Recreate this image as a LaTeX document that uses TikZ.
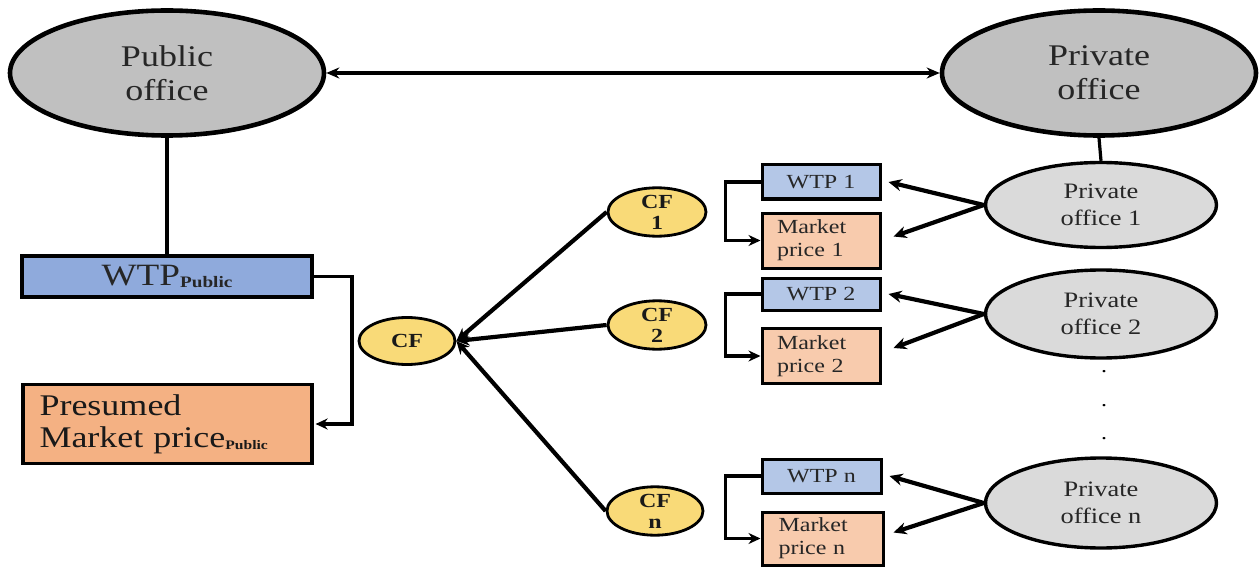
\documentclass[tikz,border=0pt]{standalone}
\usepackage{fontspec}
\setmainfont{Liberation Serif}[FakeStretch=1.2]
\usetikzlibrary{shapes.geometric,arrows.meta,calc}
\definecolor{biggray}{HTML}{C0C0C0}
\definecolor{lightgray}{HTML}{DADADA}
\definecolor{bluepub}{HTML}{8FAADC}
\definecolor{bluepriv}{HTML}{B4C7E7}
\definecolor{orangepub}{HTML}{F4B183}
\definecolor{orangepriv}{HTML}{F8CBAD}
\definecolor{cfyellow}{HTML}{F9DA78}
\tikzset{
  bigoffice/.style={ellipse, draw, line width=4.6pt, fill=biggray, inner sep=0pt, align=center,
    minimum width=314pt, minimum height=125pt, font=\fontsize{30}{34}\selectfont, text=black!85},
  subofficebox/.style={ellipse, draw, line width=3.4pt, fill=lightgray, inner sep=0pt, align=center,
    minimum width=231pt, minimum height=88pt, font=\fontsize{22}{27}\selectfont, text=black!85},
  cfnode/.style={ellipse, draw, line width=2.8pt, fill=cfyellow, inner sep=0pt, align=center,
    minimum width=96pt, minimum height=47pt, font=\fontsize{20}{21}\selectfont\bfseries, text=black!90},
  wtpbox/.style={rectangle, draw, line width=3pt, fill=bluepriv, inner sep=0pt, align=center,
    minimum width=118pt, minimum height=34pt, font=\fontsize{20}{22}\selectfont, text=black!85},
  mpbox/.style={rectangle, draw, line width=3pt, fill=orangepriv, inner sep=0pt, align=left,
    minimum width=118pt, minimum height=55pt, text width=88pt, font=\fontsize{20}{23}\selectfont, text=black!85},
  conn/.style={line width=3.2pt},
  arr/.style={line width=4.2pt, -{Stealth[length=13pt,width=12pt]}},
  elbow/.style={line width=3.8pt, -{Stealth[length=12pt,width=11pt]}},
}
\begin{document}
\begin{tikzpicture}[x=1pt,y=-1pt]
\useasboundingbox[fill=white] (0,0) rectangle (1259,567);

% top offices
\node[bigoffice] (pub) at (167,73) {Public\\office};
\node[bigoffice] (priv) at (1099,73) {Private\\office};
\draw[line width=3.2pt, {Stealth[length=13pt,width=11pt]}-{Stealth[length=13pt,width=11pt]}] (pub.east) -- (priv.west);

% public side
\node[rectangle, draw, line width=3.2pt, fill=bluepub, minimum width=290pt, minimum height=41pt, inner sep=0pt,
  font=\fontsize{31}{32}\selectfont, text=black!85] (wtppub) at (167,276.5)
  {WTP\raisebox{-2pt}{\fontsize{16}{16}\selectfont\bfseries Public}};
\node[rectangle, draw, line width=3.2pt, fill=orangepub, minimum width=289pt, minimum height=79pt, inner sep=0pt,
  text width=256pt, align=left, font=\fontsize{30}{32}\selectfont, text=black!90] (presumed) at (167.5,424)
  {Presumed\\Market price\raisebox{-2pt}{\fontsize{13}{13}\selectfont\bfseries Public}};
\draw[conn] (pub.south) -- (wtppub.north);
\draw[elbow] (wtppub.east) -- ++(38,0) |- ([xshift=2pt]presumed.east);

% CF nodes
\node[cfnode] (cf) at (407,341) {CF};
\node[cfnode, minimum width=98pt, minimum height=48pt] (cf1) at (657,212) {CF\\1};
\node[cfnode, minimum width=98pt] (cf2) at (657,325) {CF\\2};
\node[cfnode] (cfn) at (655,511) {CF\\n};
\draw[arr] (cf1.west) -- (cf.east);
\draw[arr] (cf2.west) -- (cf.east);
\draw[arr] (cfn.west) -- (cf.east);

% private boxes
\node[wtpbox] (wtp1) at (821,182) {WTP 1};
\node[mpbox] (mp1) at (821,240.5) {Market\\price 1};
\node[wtpbox, minimum height=32pt] (wtp2) at (821,294) {WTP 2};
\node[mpbox] (mp2) at (821,356) {Market\\price 2};
\node[wtpbox, minimum width=119pt] (wtpn) at (821.5,476) {WTP n};
\node[mpbox, minimum width=121pt, minimum height=53pt] (mpn) at (822.5,538.5) {Market\\price n};

\draw[elbow] (wtp1.west) -- ++(-35,0) |- (mp1.west);
\draw[elbow] (wtp2.west) -- ++(-35,0) |- (mp2.west);
\draw[elbow] (wtpn.west) -- ++(-35,0) |- (mpn.west);

% private offices
\node[subofficebox, minimum height=85pt] (po1) at (1101,205) {Private\\office 1};
\node[subofficebox] (po2) at (1101,314) {Private\\office 2};
\node[subofficebox, minimum height=90pt] (pon) at (1101,503) {Private\\office n};
\draw[conn] (priv.south) -- (po1.north);

\draw[arr] (po1.west) -- ([xshift=7pt]wtp1.east);
\draw[arr] (po1.west) -- ([xshift=12pt,yshift=4pt]mp1.east);
\draw[arr] (po2.west) -- ([xshift=7pt]wtp2.east);
\draw[arr] (po2.west) -- ([xshift=12pt,yshift=8pt]mp2.east);
\draw[arr] (pon.west) -- ([xshift=7pt]wtpn.east);
\draw[arr] (pon.west) -- ([xshift=9pt,yshift=6pt]mpn.east);

% dots
\node[font=\fontsize{20}{20}\selectfont, inner sep=0pt] (d1) at (1104,372) {.};
\node[font=\fontsize{20}{20}\selectfont, inner sep=0pt] (d2) at (1104,406) {.};
\node[font=\fontsize{20}{20}\selectfont, inner sep=0pt] (d3) at (1104,439) {.};
\end{tikzpicture}
\end{document}
